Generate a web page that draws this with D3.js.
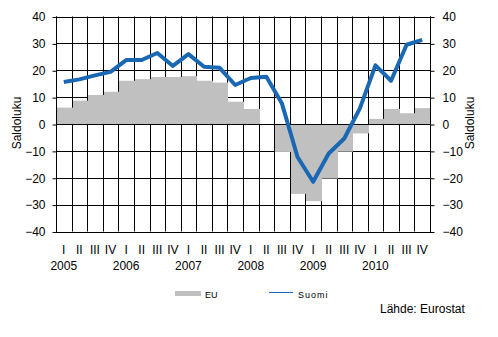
<!DOCTYPE html>
<html>
<head>
<meta charset="utf-8">
<script src="https://d3js.org/d3.v7.min.js"></script>
<style>
  body { margin: 0; background: #fff; }
  svg { display: block; }
  text { font-family: "Liberation Sans", Arial, sans-serif; fill: #000; }
</style>
</head>
<body>
<svg id="chart" width="498" height="337"></svg>
<script>
// ---- data ----
const years = ["2005", "2006", "2007", "2008", "2009", "2010"];
const quarterLabels = ["I", "II", "III", "IV"];
const euValues = [6.1, 8.7, 10.8, 12.0, 16.1, 16.7, 17.5, 17.5, 17.8, 16.1, 15.4, 8.3,
                  5.6, 0, -10.4, -26.0, -28.7, -20.3, -10.3, -3.5, 1.9, 5.6, 4.0, 5.9];
const suomiValues = [15.6, 16.6, 18.1, 19.4, 23.8, 23.8, 26.4, 21.6, 26.0, 21.3, 20.9, 14.5,
                     17.1, 17.6, 7.6, -12.3, -21.5, -11.0, -5.4, 5.8, 21.8, 16.1, 29.5, 31.3];
const yTicks = [40, 30, 20, 10, 0, -10, -20, -30, -40];
const seriesNames = ["EU", "Suomi"];
const axisTitle = "Saldoluku";
const sourceText = "Lähde: Eurostat";

// ---- layout ----
(function () {
const svg = d3.select("#chart");
const mLeft = 56, mRight = 430, mTop = 16.5, mBottom = 231.5;
const n = euValues.length;
const x = d3.scaleLinear().domain([0, n]).range([mLeft, mRight]);
const y = d3.scaleLinear().domain([-40, 40]).range([mBottom, mTop]);
const eu = "#c0c0c0", blue = "#1a68b3";

const g = svg.append("g");

// vertical grid lines at every quarter boundary
g.selectAll("line.vg").data(d3.range(n + 1)).join("line")
  .attr("x1", d => Math.round(x(d)) + 0.5).attr("x2", d => Math.round(x(d)) + 0.5)
  .attr("y1", y(40)).attr("y2", y(-40))
  .attr("stroke", "#000").attr("stroke-width", 1);

// horizontal grid lines
g.selectAll("line.hg").data(yTicks).join("line")
  .attr("x1", mLeft).attr("x2", mRight + 1)
  .attr("y1", d => Math.round(y(d)) + 0.5).attr("y2", d => Math.round(y(d)) + 0.5)
  .attr("stroke", "#000").attr("stroke-width", 1);

// EU bars (cover gridlines)
const y0 = Math.round(y(0));
g.selectAll("rect.bar").data(euValues).join("rect")
  .attr("x", (d, i) => Math.round(x(i)) + 1)
  .attr("width", (d, i) => Math.round(x(i + 1)) - Math.round(x(i)))
  .attr("y", d => d >= 0 ? y(d) : y0 + 1)
  .attr("height", d => d >= 0 ? Math.max(0, y0 - y(d)) : Math.max(0, y(d) - y0 - 1))
  .attr("fill", eu);

// zero line over bars
g.append("line")
  .attr("x1", mLeft).attr("x2", mRight + 1)
  .attr("y1", y0 + 0.5).attr("y2", y0 + 0.5)
  .attr("stroke", "#000");

// axis lines
[mLeft, mRight].forEach(xx => {
  g.append("line").attr("x1", xx + 0.5).attr("x2", xx + 0.5)
    .attr("y1", y(40)).attr("y2", y(-40) + 1).attr("stroke", "#000");
});

// y axes via d3 axis
const axL = d3.axisLeft(y).tickValues(yTicks).tickSize(4).tickPadding(7).tickFormat(d3.format("d"));
const axR = d3.axisRight(y).tickValues(yTicks).tickSize(4).tickPadding(8).tickFormat(d3.format("d"));
const gl = svg.append("g").attr("transform", `translate(${mLeft + 0.5},0.5)`).call(axL);
const gr = svg.append("g").attr("transform", `translate(${mRight + 0.5},0.5)`).call(axR);
[gl, gr].forEach(a => {
  a.select(".domain").remove();
  a.selectAll("line").attr("stroke", "#000");
  a.selectAll("text").attr("font-size", 12).attr("font-family", "Liberation Sans, Arial, sans-serif").attr("fill", "#000");
});

// Suomi line
const line = d3.line().x((d, i) => x(i + 0.5)).y(d => y(d));
svg.append("path").datum(suomiValues)
  .attr("d", line).attr("fill", "none")
  .attr("stroke", blue).attr("stroke-width", 4)
  .attr("stroke-linejoin", "round").attr("stroke-linecap", "butt");

// x labels
svg.selectAll("text.q").data(d3.range(n)).join("text")
  .attr("x", i => x(i + 0.5)).attr("y", 254)
  .attr("text-anchor", "middle").attr("font-size", 12)
  .text(i => quarterLabels[i % 4]);
svg.selectAll("text.yr").data(years).join("text")
  .attr("x", (d, i) => x(i * 4 + 0.5)).attr("y", 270)
  .attr("text-anchor", "middle").attr("font-size", 12)
  .text(d => d);

// axis titles
svg.append("text").attr("transform", "translate(21,123) rotate(-90)")
  .attr("text-anchor", "middle").attr("font-size", 12).text(axisTitle);
svg.append("text").attr("transform", "translate(474,123) rotate(-90)")
  .attr("text-anchor", "middle").attr("font-size", 12).text(axisTitle);

// legend
svg.append("rect").attr("x", 175).attr("y", 291).attr("width", 26).attr("height", 5).attr("fill", eu);
svg.append("text").attr("x", 205).attr("y", 297.5).attr("font-size", 9).text(seriesNames[0]);
svg.append("line").attr("x1", 269).attr("x2", 293).attr("y1", 292.5).attr("y2", 292.5)
  .attr("stroke", blue).attr("stroke-width", 1);
svg.append("text").attr("x", 298).attr("y", 297.5).attr("font-size", 9)
  .attr("letter-spacing", "1px").text(seriesNames[1]);

// source
svg.append("text").attr("x", 380).attr("y", 313).attr("font-size", 12).text(sourceText);
})();
</script>
</body>
</html>
